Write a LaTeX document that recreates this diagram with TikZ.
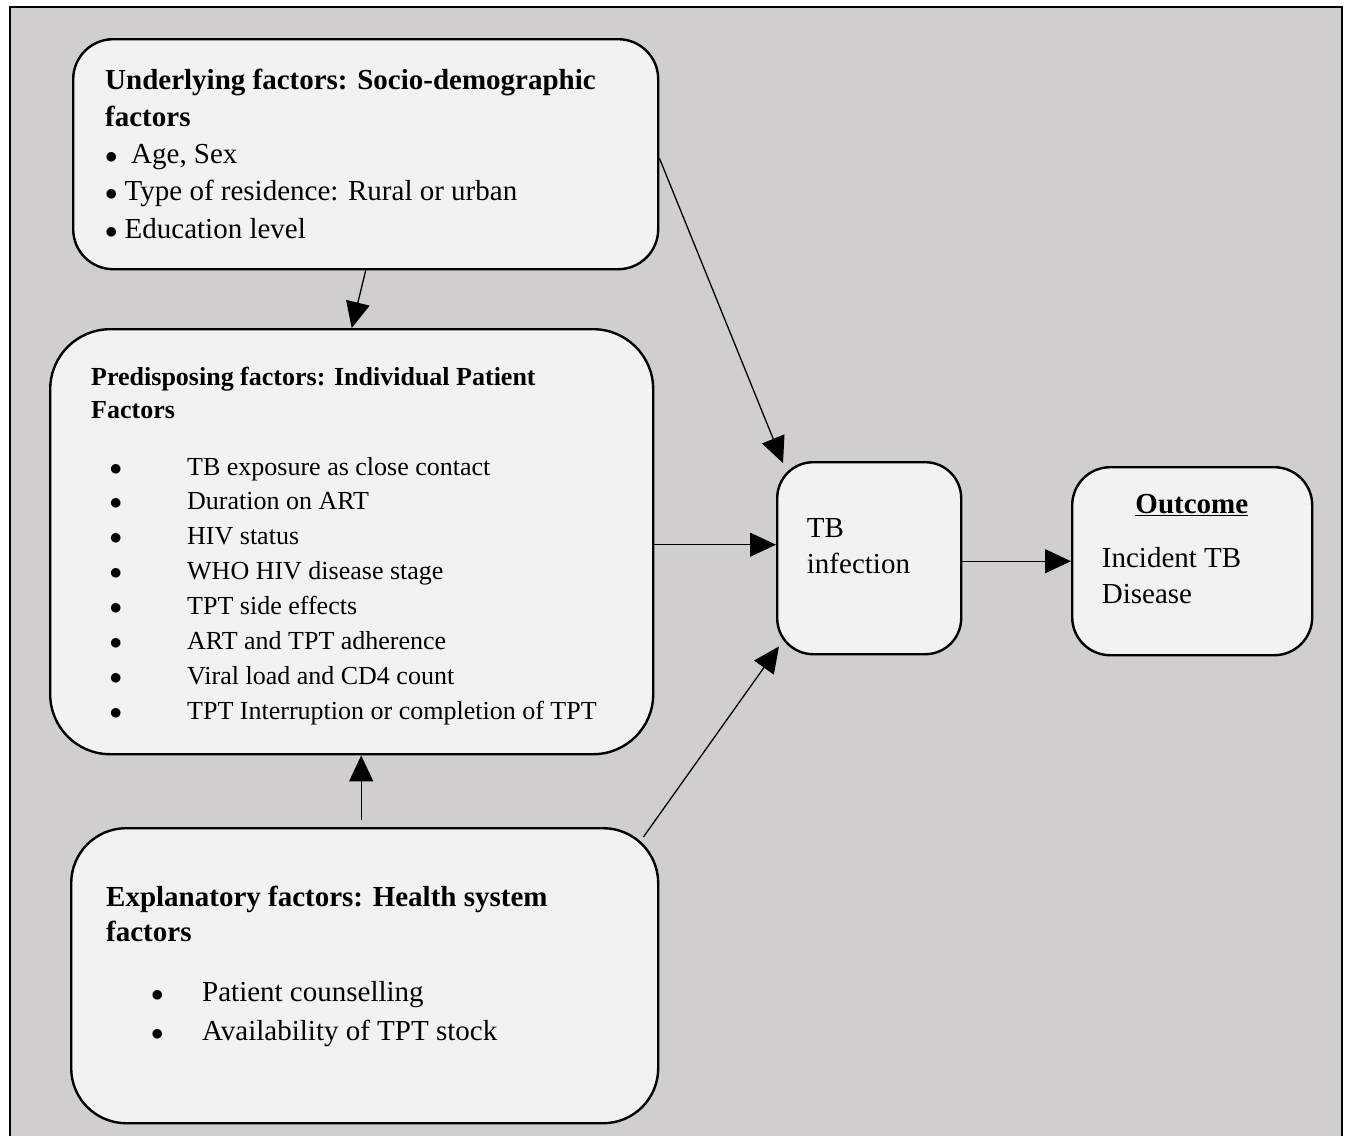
\documentclass[tikz,border=0pt]{standalone}
\usepackage{fontspec}
\setmainfont{Liberation Serif}
\usetikzlibrary{arrows.meta}

\definecolor{panelgrey}{HTML}{D0CECE}
\definecolor{boxgrey}{HTML}{F2F2F2}

\def\bodysize{\fontsize{29}{37.3}\selectfont}
\def\listsize{\fontsize{26}{34.9}\selectfont}
\def\itm#1{\makebox[#1][l]{$\bullet$}}

\begin{document}
\begin{tikzpicture}[x=1pt, y=-1pt,
  factorbox/.style={draw, line width=2.4pt, fill=boxgrey, anchor=north west, inner sep=0pt},
  boxtext/.style={anchor=base west, align=left, inner sep=0pt, font=\bodysize},
  link/.style={line width=1.3pt, -{Triangle[length=26pt, width=24pt]}}]
\useasboundingbox (0,0) rectangle (1346,1135);
\draw[line width=2pt, fill=panelgrey] (10,7) rectangle (1342,1150);

\node[factorbox, minimum width=585pt, minimum height=230pt, rounded corners=40pt] (under) at (72,38) {};
\node[factorbox, minimum width=603pt, minimum height=425pt, rounded corners=60pt] (pred) at (49,328) {};
\node[factorbox, minimum width=587pt, minimum height=295pt, rounded corners=55pt] (expl) at (70,827) {};
\node[factorbox, minimum width=184pt, minimum height=192pt, rounded corners=36pt] (tb) at (776,461) {};
\node[factorbox, minimum width=240pt, minimum height=188pt, rounded corners=38pt] (out) at (1071,466) {};

% text blocks sit on the baseline of their last line
\node[boxtext] (undertxt) at (105,238.2) {\textbf{Underlying factors: Socio-demographic}\\\textbf{factors}\\%
  \itm{26pt}Age, Sex\\\itm{19.5pt}Type of residence: Rural or urban\\\itm{19.5pt}Education level};
\node[boxtext, font=\fontsize{26}{33}\selectfont] (predtitle) at (91,418) {\textbf{Predisposing factors: Individual Patient}\\\textbf{Factors}};
\node[boxtext, font=\listsize] (predlist) at (109.5,719.3) {%
  \itm{77.5pt}TB exposure as close contact\\
  \itm{77.5pt}Duration on ART\\
  \itm{77.5pt}HIV status\\
  \itm{77.5pt}WHO HIV disease stage\\
  \itm{77.5pt}TPT side effects\\
  \itm{77.5pt}ART and TPT adherence\\
  \itm{77.5pt}Viral load and CD4 count\\
  \itm{77.5pt}TPT Interruption or completion of TPT};
\node[boxtext, font=\fontsize{29}{35}\selectfont] (expltitle) at (106,941.7) {\textbf{Explanatory factors: Health system}\\\textbf{factors}};
\node[boxtext, font=\fontsize{29}{38.3}\selectfont] (expllist) at (150.8,1040) {%
  \itm{51.2pt}Patient counselling\\
  \itm{51.2pt}Availability of TPT stock};
\node[boxtext, font=\fontsize{29}{35.5}\selectfont] (tbtxt) at (806.7,573.2) {TB\\infection};
\node[boxtext, anchor=base] (outtitle) at (1191.8,513) {\underline{\textbf{Outcome}}};
\node[boxtext, font=\fontsize{29}{35.6}\selectfont] (outtxt) at (1101.7,603.3) {Incident TB\\Disease};

\draw[link] (under.south) -- (pred.north);
\draw[link] ([xshift=-3.5pt, yshift=7pt]expl.north) -- ([xshift=9.5pt]pred.south);
\draw[link] ([yshift=-4pt]under.east) -- ([xshift=7pt, yshift=-2pt]tb.north west);
\draw[link] ([yshift=-3pt]pred.east) -- ([yshift=-3pt]pred.east -| tb.west);
\draw[link] ([xshift=-16pt, yshift=-10pt]expl.north east) -- ([xshift=3pt, yshift=9pt]tb.south west);
\draw[link] (tb.east |- out.west) -- (out.west);
\end{tikzpicture}
\end{document}
